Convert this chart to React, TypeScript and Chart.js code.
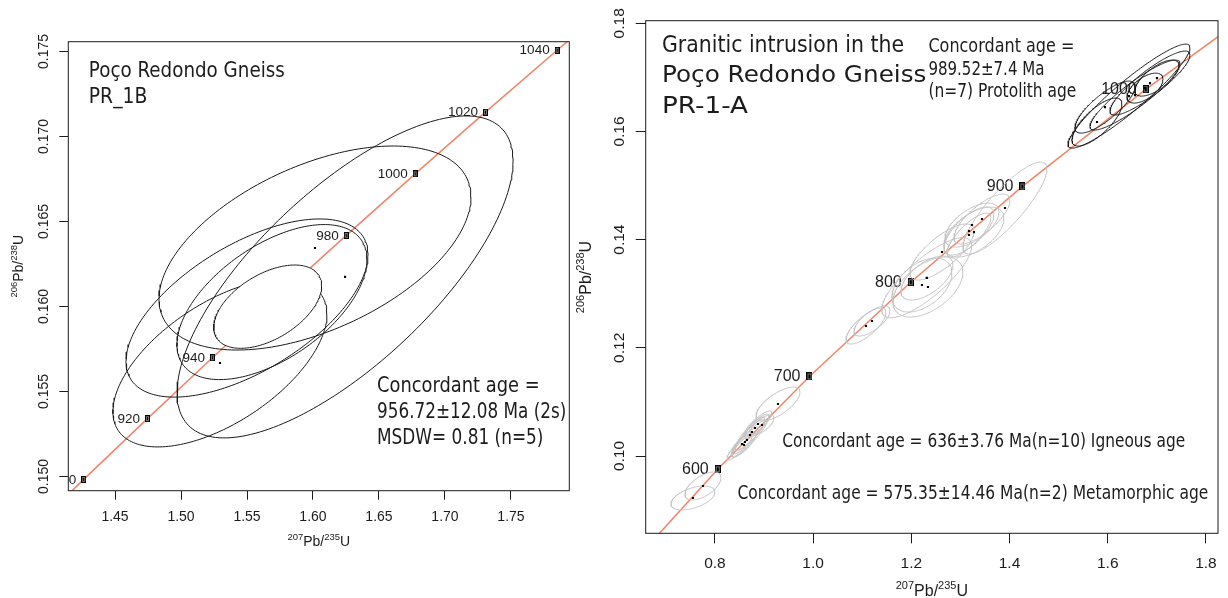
import React, { useEffect, useRef } from "react";
import { Chart, registerables } from "chart.js";

Chart.register(...registerables);

// U-Pb decay constants (per year) used to place the concordia curve and its age marks
const LAMBDA_238 = 1.55125e-10;
const LAMBDA_235 = 9.8485e-10;

// ---------------- Left panel: Poço Redondo Gneiss PR_1B ----------------
const LEFT_X_RANGE: [number, number] = [1.4146, 1.7942];
const LEFT_Y_RANGE: [number, number] = [0.149165, 0.175576];
const LEFT_X_TICKS = [1.45, 1.5, 1.55, 1.6, 1.65, 1.7, 1.75];
const LEFT_Y_TICKS = [0.15, 0.155, 0.16, 0.165, 0.17, 0.175];
const LEFT_CURVE_AGES = [880, 900, 920, 940, 960, 980, 1000, 1020, 1040, 1060];
const LEFT_MARKER_AGES = [900, 920, 940, 960, 980, 1000, 1020, 1040];
const LEFT_PB207_U235 = [1.6243, 1.6015, 1.5295, 1.55, 1.5689];
const LEFT_PB207_U235_ERR = [0.1273, 0.1182, 0.0811, 0.0917, 0.072];
const LEFT_PB206_U238 = [0.16174, 0.16344, 0.15668, 0.15991, 0.16026];
const LEFT_PB206_U238_ERR = [0.00947, 0.006, 0.00494, 0.00524, 0.00456];
const LEFT_RHO = [0.72, 0.5, 0.58, 0.6, 0.55];
const LEFT_CONCORDANT_AGE = 956.72;
const LEFT_CONCORDANT_ERR = [0.0409, 0.00245];
const LEFT_CONCORDANT_RHO = 0.5;

// ---------------- Right panel: PR-1-A ----------------
const RIGHT_X_RANGE: [number, number] = [0.659, 1.8246];
const RIGHT_Y_RANGE: [number, number] = [0.08571, 0.18048];
const RIGHT_X_TICKS = [0.8, 1.0, 1.2, 1.4, 1.6, 1.8];
const RIGHT_Y_TICKS = [0.1, 0.12, 0.14, 0.16, 0.18];
const RIGHT_CURVE_AGES = [500, 600, 700, 800, 900, 1000, 1100];
const RIGHT_MARKER_AGES = [600, 700, 800, 900, 1000];

// protolith zircons (black, n=7)
const PROTO_PB207_U235 = [1.6433, 1.6861, 1.5944, 1.5781, 1.7003, 1.6759, 1.6555];
const PROTO_PB207_U235_ERR = [0.1242, 0.0815, 0.0611, 0.0509, 0.0448, 0.0367, 0.0916];
const PROTO_PB206_U238 = [0.16654, 0.16895, 0.16451, 0.16174, 0.16987, 0.16802, 0.16673];
const PROTO_PB206_U238_ERR = [0.00961, 0.00592, 0.00481, 0.00444, 0.00333, 0.00277, 0.00647];
const PROTO_RHO = [0.93, 0.88, 0.8, 0.75, 0.7, 0.6, 0.9];

// intermediate zircons (grey)
const MID_PB207_U235 = [1.3908, 1.3439, 1.3236, 1.3175, 1.3276, 1.3175, 1.2625, 1.2313, 1.2217, 1.2319, 1.2339, 1.1077, 1.1199];
const MID_PB207_U235_ERR = [0.0855, 0.057, 0.055, 0.0509, 0.0611, 0.0448, 0.0652, 0.0916, 0.0611, 0.053, 0.0713, 0.0407, 0.0367];
const MID_PB206_U238 = [0.14584, 0.14381, 0.1427, 0.14159, 0.1414, 0.14085, 0.13771, 0.13296, 0.13161, 0.1329, 0.13124, 0.12403, 0.12495];
const MID_PB206_U238_ERR = [0.0085, 0.00462, 0.00407, 0.00444, 0.00462, 0.00407, 0.00518, 0.0074, 0.00499, 0.00407, 0.00555, 0.00333, 0.00277];
const MID_RHO = [0.85, 0.75, 0.6, 0.7, 0.55, 0.8, 0.75, 0.8, 0.45, 0.6, 0.5, 0.75, 0.7];

// igneous zircons (grey, n=10)
const IGN_PB207_U235 = [0.9285, 0.8877, 0.8959, 0.8714, 0.8612, 0.8551, 0.8653, 0.8755, 0.8592, 0.8816];
const IGN_PB207_U235_ERR = [0.0448, 0.0285, 0.0244, 0.0305, 0.0285, 0.0204, 0.0407, 0.0346, 0.0244, 0.0204];
const IGN_PB206_U238 = [0.10961, 0.10592, 0.10573, 0.10388, 0.10259, 0.10222, 0.10296, 0.10444, 0.10203, 0.10518];
const IGN_PB206_U238_ERR = [0.00314, 0.0024, 0.00185, 0.00296, 0.00277, 0.00185, 0.0037, 0.00333, 0.00222, 0.00203];
const IGN_RHO = [0.7, 0.85, 0.7, 0.9, 0.9, 0.8, 0.93, 0.9, 0.85, 0.8];

// metamorphic zircons (grey, n=2)
const MET_PB207_U235 = [0.7553, 0.7757];
const MET_PB207_U235_ERR = [0.0448, 0.0367];
const MET_PB206_U238 = [0.09224, 0.09445];
const MET_PB206_U238_ERR = [0.00222, 0.00259];
const MET_RHO = [0.5, 0.6];

// ---------------- styling ----------------
const FONT_AXIS = "'Liberation Sans', Arial, Helvetica, sans-serif";
const FONT_NOTE = "'DejaVu Sans', 'Noto Sans', sans-serif";
const INK = "#1c1c1c";
const CONCORDIA_COLOR = "rgb(238,135,108)";
const BLACK_ELL = "#1a1a1a";
const GREY_ELL = "rgb(196,196,196)";

type Ell = { x: number; y: number; sx: number; sy: number; rho: number };
type Note = { text: string; x: number; y: number; size: number; width: number };

const zipEll = (x: number[], sx: number[], y: number[], sy: number[], rho: number[]): Ell[] =>
  x.map((v, i) => ({ x: v, sx: sx[i], y: y[i], sy: sy[i], rho: rho[i] }));

const concordia = (ageMa: number) => ({
  x: Math.exp(LAMBDA_235 * ageMa * 1e6) - 1,
  y: Math.exp(LAMBDA_238 * ageMa * 1e6) - 1,
});

function ellipsePoints(e: Ell, n = 200) {
  const pts: { x: number; y: number }[] = [];
  const k = Math.sqrt(1 - e.rho * e.rho);
  for (let i = 0; i <= n; i++) {
    const t = (2 * Math.PI * i) / n;
    pts.push({ x: e.x + e.sx * Math.cos(t), y: e.y + e.sy * (e.rho * Math.cos(t) + k * Math.sin(t)) });
  }
  return pts;
}

interface PanelCfg {
  xRange: [number, number];
  yRange: [number, number];
  xTicks: number[];
  yTicks: number[];
  xDec: number;
  yDec: number;
  area: { left: number; top: number; right: number; bottom: number };
  tickLen: number;
  xTickPad: number;
  tickFont: number;
  yLabelBaseX: number;
  curveAges: number[];
  markerAges: number[];
  markerSize: [number, number];
  markerFont: number;
  markerGap: number;
  groups: { ells: Ell[]; color: string }[];
  concordant?: Ell;
  titleFont: number;
  supFont: number;
  xTitleBase: number;
  yTitleBaseX: number;
  notes: Note[];
}

function fitText(ctx: CanvasRenderingContext2D, n: Note) {
  ctx.save();
  ctx.font = `${n.size}px ${FONT_NOTE}`;
  const w = ctx.measureText(n.text).width;
  ctx.translate(n.x, n.y);
  ctx.scale(n.width / w, 1);
  ctx.textAlign = "left";
  ctx.textBaseline = "alphabetic";
  ctx.fillStyle = INK;
  ctx.fillText(n.text, 0, 0);
  ctx.restore();
}

function drawIso(
  ctx: CanvasRenderingContext2D,
  parts: { t: string; s: boolean }[],
  along: number,
  base: number,
  size: number,
  sup: number,
  vertical: boolean
) {
  ctx.save();
  const widths = parts.map((p) => {
    ctx.font = `${p.s ? sup : size}px ${FONT_AXIS}`;
    return ctx.measureText(p.t).width;
  });
  const total = widths.reduce((a, b) => a + b, 0);
  if (vertical) {
    ctx.translate(base, along);
    ctx.rotate(-Math.PI / 2);
  } else {
    ctx.translate(along, base);
  }
  ctx.textAlign = "left";
  ctx.textBaseline = "alphabetic";
  ctx.fillStyle = INK;
  let x = -total / 2;
  parts.forEach((p, i) => {
    ctx.font = `${p.s ? sup : size}px ${FONT_AXIS}`;
    ctx.fillText(p.t, x, p.s ? -size * 0.42 : 0);
    x += widths[i];
  });
  ctx.restore();
}

function makeMarker(w: number, h: number) {
  const c = document.createElement("canvas");
  c.width = w;
  c.height = h;
  const g = c.getContext("2d")!;
  g.fillStyle = "#000";
  g.fillRect(0, 0, w, h);
  g.fillStyle = "#777";
  g.fillRect(1, 1, w - 2, h - 2);
  g.fillStyle = "#000";
  g.fillRect(2, 2, w - 4, h - 4);
  return c;
}

function buildChart(canvas: HTMLCanvasElement, p: PanelCfg) {
  const W = canvas.width;
  const H = canvas.height;
  const marker = makeMarker(p.markerSize[0], p.markerSize[1]);
  const datasets: any[] = [];

  datasets.push({
    label: "concordia",
    data: p.curveAges.map(concordia),
    showLine: true,
    borderColor: CONCORDIA_COLOR,
    borderWidth: 1.6,
    pointRadius: 0,
    tension: 0,
    fill: false,
    order: 100,
  });
  datasets.push({
    label: "age marks",
    data: p.markerAges.map(concordia),
    showLine: false,
    pointStyle: marker,
    pointRadius: 4,
    order: 90,
  });
  const centres: { x: number; y: number }[] = [];
  p.groups.forEach((g) =>
    g.ells.forEach((e) => {
      centres.push({ x: e.x, y: e.y });
      datasets.push({
        data: ellipsePoints(e),
        showLine: true,
        borderColor: g.color,
        borderWidth: 1,
        pointRadius: 0,
        tension: 0,
        fill: false,
        order: 50,
      });
    })
  );
  datasets.push({
    label: "centres",
    data: centres,
    showLine: false,
    pointStyle: "rect",
    pointRadius: 1.5,
    pointBackgroundColor: "#000",
    pointBorderWidth: 0,
    order: 40,
  });
  if (p.concordant) {
    datasets.push({
      label: "concordant age",
      data: ellipsePoints(p.concordant),
      showLine: true,
      borderColor: BLACK_ELL,
      borderWidth: 1,
      backgroundColor: "#ffffff",
      fill: "shape",
      pointRadius: 0,
      tension: 0,
      order: 10,
    });
  }

  const decor = {
    id: "decor",
    beforeDatasetsDraw(chart: any) {
      const ctx: CanvasRenderingContext2D = chart.ctx;
      const a = chart.chartArea;
      const xs = chart.scales.x;
      const ys = chart.scales.y;
      ctx.save();
      ctx.beginPath();
      ctx.rect(a.left, a.top, a.right - a.left, a.bottom - a.top);
      ctx.clip();
      ctx.font = `${p.markerFont}px ${FONT_AXIS}`;
      ctx.fillStyle = INK;
      ctx.textAlign = "right";
      ctx.textBaseline = "middle";
      p.markerAges.forEach((age) => {
        const c = concordia(age);
        ctx.fillText(String(age), xs.getPixelForValue(c.x) - p.markerGap, ys.getPixelForValue(c.y) + 0.5);
      });
      ctx.restore();
    },
    afterDatasetsDraw(chart: any) {
      const ctx: CanvasRenderingContext2D = chart.ctx;
      const a = chart.chartArea;
      const ys = chart.scales.y;
      ctx.save();
      ctx.strokeStyle = INK;
      ctx.lineWidth = 1;
      ctx.strokeRect(a.left, a.top, a.right - a.left, a.bottom - a.top);
      // y tick labels, parallel to the axis
      ctx.font = `${p.tickFont}px ${FONT_AXIS}`;
      ctx.fillStyle = INK;
      ctx.textAlign = "center";
      ctx.textBaseline = "alphabetic";
      p.yTicks.forEach((v) => {
        ctx.save();
        ctx.translate(p.yLabelBaseX, ys.getPixelForValue(v));
        ctx.rotate(-Math.PI / 2);
        ctx.fillText(v.toFixed(p.yDec), 0, 0);
        ctx.restore();
      });
      ctx.restore();
      drawIso(
        ctx,
        [
          { t: "207", s: true },
          { t: "Pb/", s: false },
          { t: "235", s: true },
          { t: "U", s: false },
        ],
        (a.left + a.right) / 2,
        p.xTitleBase,
        p.titleFont,
        p.supFont,
        false
      );
      drawIso(
        ctx,
        [
          { t: "206", s: true },
          { t: "Pb/", s: false },
          { t: "238", s: true },
          { t: "U", s: false },
        ],
        (a.top + a.bottom) / 2,
        p.yTitleBaseX,
        p.titleFont,
        p.supFont,
        true
      );
      p.notes.forEach((n) => fitText(ctx, n));
    },
  };

  return new Chart(canvas, {
    type: "scatter",
    data: { datasets },
    options: {
      responsive: false,
      animation: false,
      devicePixelRatio: 1,
      events: [],
      layout: { padding: { left: 0, top: p.area.top, right: W - p.area.right, bottom: 0 } },
      plugins: {
        legend: { display: false },
        tooltip: { enabled: false },
        filler: { propagate: false },
      },
      scales: {
        x: {
          type: "linear",
          position: "bottom",
          min: p.xRange[0],
          max: p.xRange[1],
          afterBuildTicks: (s: any) => {
            s.ticks = p.xTicks.map((v) => ({ value: v }));
          },
          afterFit: (s: any) => {
            s.height = H - p.area.bottom;
          },
          grid: { display: true, drawOnChartArea: false, drawTicks: true, tickLength: p.tickLen, color: INK, lineWidth: 1 },
          border: { display: false },
          ticks: {
            autoSkip: false,
            maxRotation: 0,
            minRotation: 0,
            padding: p.xTickPad,
            color: INK,
            font: { family: FONT_AXIS, size: p.tickFont },
            callback: (v: any) => Number(v).toFixed(p.xDec),
          },
        },
        y: {
          type: "linear",
          position: "left",
          min: p.yRange[0],
          max: p.yRange[1],
          afterBuildTicks: (s: any) => {
            s.ticks = p.yTicks.map((v) => ({ value: v }));
          },
          afterFit: (s: any) => {
            s.width = p.area.left;
          },
          grid: { display: true, drawOnChartArea: false, drawTicks: true, tickLength: p.tickLen, color: INK, lineWidth: 1 },
          border: { display: false },
          ticks: { display: false },
        },
      },
    } as any,
    plugins: [decor],
  });
}

const LEFT_CONC_POINT = concordia(LEFT_CONCORDANT_AGE);

const leftCfg: PanelCfg = {
  xRange: LEFT_X_RANGE,
  yRange: LEFT_Y_RANGE,
  xTicks: LEFT_X_TICKS,
  yTicks: LEFT_Y_TICKS,
  xDec: 2,
  yDec: 3,
  area: { left: 68.3, top: 41.7, right: 569.3, bottom: 490.7 },
  tickLen: 9,
  xTickPad: 9,
  tickFont: 14,
  yLabelBaseX: 48.3,
  curveAges: LEFT_CURVE_AGES,
  markerAges: LEFT_MARKER_AGES,
  markerSize: [5, 7],
  markerFont: 13.5,
  markerGap: 7.5,
  groups: [
    { ells: zipEll(LEFT_PB207_U235, LEFT_PB207_U235_ERR, LEFT_PB206_U238, LEFT_PB206_U238_ERR, LEFT_RHO), color: BLACK_ELL },
  ],
  concordant: {
    x: LEFT_CONC_POINT.x,
    y: LEFT_CONC_POINT.y,
    sx: LEFT_CONCORDANT_ERR[0],
    sy: LEFT_CONCORDANT_ERR[1],
    rho: LEFT_CONCORDANT_RHO,
  },
  titleFont: 14,
  supFont: 9.5,
  xTitleBase: 546,
  yTitleBaseX: 23,
  notes: [
    { text: "Poço Redondo Gneiss", x: 88.8, y: 76.7, size: 21, width: 196 },
    { text: "PR_1B", x: 88.8, y: 103.3, size: 21, width: 58.5 },
    { text: "Concordant age =", x: 377, y: 391.7, size: 21, width: 162.6 },
    { text: "956.72±12.08 Ma (2s)", x: 377, y: 418.3, size: 21, width: 189.4 },
    { text: "MSDW= 0.81 (n=5)", x: 377, y: 444, size: 21, width: 166.4 },
  ],
};

const rightCfg: PanelCfg = {
  xRange: RIGHT_X_RANGE,
  yRange: RIGHT_Y_RANGE,
  xTicks: RIGHT_X_TICKS,
  yTicks: RIGHT_Y_TICKS,
  xDec: 1,
  yDec: 2,
  area: { left: 70.7, top: 20.7, right: 643, bottom: 533.3 },
  tickLen: 10,
  xTickPad: 11,
  tickFont: 15.5,
  yLabelBaseX: 48.8,
  curveAges: RIGHT_CURVE_AGES,
  markerAges: RIGHT_MARKER_AGES,
  markerSize: [6, 8],
  markerFont: 16,
  markerGap: 9,
  groups: [
    { ells: zipEll(MET_PB207_U235, MET_PB207_U235_ERR, MET_PB206_U238, MET_PB206_U238_ERR, MET_RHO), color: GREY_ELL },
    { ells: zipEll(IGN_PB207_U235, IGN_PB207_U235_ERR, IGN_PB206_U238, IGN_PB206_U238_ERR, IGN_RHO), color: GREY_ELL },
    { ells: zipEll(MID_PB207_U235, MID_PB207_U235_ERR, MID_PB206_U238, MID_PB206_U238_ERR, MID_RHO), color: GREY_ELL },
    { ells: zipEll(PROTO_PB207_U235, PROTO_PB207_U235_ERR, PROTO_PB206_U238, PROTO_PB206_U238_ERR, PROTO_RHO), color: BLACK_ELL },
  ],
  titleFont: 16,
  supFont: 11,
  xTitleBase: 596,
  yTitleBaseX: 16,
  notes: [
    { text: "Granitic intrusion in the", x: 87, y: 51.7, size: 23, width: 242 },
    { text: "Poço Redondo Gneiss", x: 87, y: 81.7, size: 23, width: 264.4 },
    { text: "PR-1-A", x: 87, y: 113.3, size: 23, width: 86 },
    { text: "Concordant age =", x: 353.4, y: 51.7, size: 19, width: 146 },
    { text: "989.52±7.4 Ma", x: 353.4, y: 74.5, size: 19, width: 116 },
    { text: "(n=7) Protolith age", x: 353.4, y: 97, size: 19, width: 148 },
    { text: "Concordant age = 636±3.76 Ma(n=10) Igneous age", x: 207.2, y: 446.7, size: 19, width: 403 },
    { text: "Concordant age = 575.35±14.46 Ma(n=2) Metamorphic age", x: 162.4, y: 499.3, size: 19, width: 471 },
  ],
};

function Panel({ cfg, left, width }: { cfg: PanelCfg; left: number; width: number }) {
  const ref = useRef<HTMLCanvasElement>(null);
  useEffect(() => {
    const chart = buildChart(ref.current!, cfg);
    return () => chart.destroy();
  }, [cfg]);
  return (
    <canvas
      ref={ref}
      width={width}
      height={598}
      style={{ position: "absolute", left, top: 0, width, height: 598, display: "block" }}
    />
  );
}

export default function App() {
  return (
    <div style={{ position: "fixed", left: 0, top: 0, width: 1228, height: 598, background: "#fff", overflow: "hidden" }}>
      <Panel cfg={leftCfg} left={0} width={575} />
      <Panel cfg={rightCfg} left={575} width={653} />
    </div>
  );
}
